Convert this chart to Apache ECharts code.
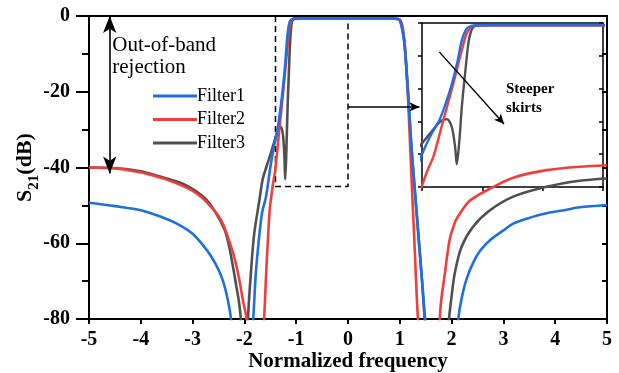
<!DOCTYPE html>
<html><head><meta charset="utf-8">
<script src="https://cdn.jsdelivr.net/npm/echarts/dist/echarts.min.js"></script>
<style>html,body{margin:0;padding:0;background:#fff}#c{width:619px;height:373px}</style>
</head><body><div id="c"></div>
<script>
// ---- data ----
const seriesNames = ['Filter1', 'Filter2', 'Filter3'];
const xRange = [-5, 5];
const yRange = [-80, 0];
const insetXRange = [-1.5, 0];
const insetYRange = [-50, 0];

const f1Freq = [-5, -4.5, -4, -3.5, -3.2, -3.0, -2.8, -2.64, -2.5, -2.4, -2.32, -2.26, -2.05, -1.83, -1.78, -1.72, -1.66, -1.58, -1.5, -1.434, -1.35, -1.268, -1.21, -1.17, -1.13, -1.09, -1.04, -0.9, -0.5, 0, 0.5, 0.9, 0.96, 1.0, 1.04, 1.09, 1.16, 1.22, 1.29, 1.36, 1.43, 1.49, 1.8, 2.13, 2.16, 2.23, 2.3, 2.41, 2.55, 2.74, 3.0, 3.19, 3.5, 3.83, 4.2, 4.47, 5];
const f1S21 = [-49.3, -50.2, -51.3, -53.6, -55.6, -57.5, -60.5, -63.5, -67, -70.5, -75, -80, -120, -80, -68, -59, -52, -47.5, -40, -34.7, -29.1, -20.5, -12.4, -5.3, -1.7, -0.9, -0.7, -0.6, -0.6, -0.6, -0.6, -0.6, -0.8, -1.1, -3, -7.3, -20.5, -33.7, -46, -58, -70, -80, -120, -80, -77, -72.3, -69, -65.3, -62, -59.2, -56.6, -54.8, -53.3, -52.1, -51.2, -50.5, -49.9];

const f2Freq = [-5, -4.44, -4, -3.8, -3.5, -3.15, -2.95, -2.77, -2.62, -2.51, -2.4, -2.32, -2.22, -2.15, -2.08, -2.03, -1.96, -1.8, -1.62, -1.58, -1.55, -1.51, -1.45, -1.406, -1.323, -1.24, -1.17, -1.13, -1.09, -1.05, -0.9, -0.5, 0, 0.5, 0.9, 0.96, 1.0, 1.05, 1.1, 1.16, 1.22, 1.28, 1.35, 1.55, 1.77, 1.8, 1.87, 1.96, 2.05, 2.12, 2.35, 2.74, 3.19, 3.83, 4.47, 5];
const f2S21 = [-40, -40.3, -41.3, -42, -43.2, -45.1, -46.6, -48.6, -50.8, -52.6, -55.3, -58.3, -62.5, -66.2, -71, -75, -80, -120, -80, -68, -60, -51, -44.5, -40.8, -29.6, -18.4, -8.3, -3.2, -1.2, -0.8, -0.7, -0.7, -0.7, -0.7, -0.7, -0.8, -0.9, -2.5, -8, -22, -41, -59, -80, -120, -80, -75, -68, -59.2, -55, -53, -48.8, -45.6, -42.7, -40.7, -39.8, -39.4];

const f3Freq = [-5, -4.44, -4, -3.8, -3.5, -3.15, -2.77, -2.55, -2.38, -2.3, -2.22, -2.16, -2.11, -2.07, -2.0, -1.93, -1.87, -1.81, -1.71, -1.65, -1.58, -1.5, -1.434, -1.35, -1.295, -1.254, -1.226, -1.212, -1.19, -1.17, -1.14, -1.116, -1.09, -1.06, -1.0, -0.5, 0, 0.5, 0.9, 0.96, 1.0, 1.04, 1.09, 1.16, 1.22, 1.29, 1.36, 1.43, 1.48, 1.7, 1.95, 2.0, 2.06, 2.19, 2.41, 2.74, 3.19, 3.83, 4.47, 5];
const f3S21 = [-40, -40.2, -41, -41.7, -42.9, -44.5, -48, -52, -56.5, -60.5, -66.2, -71, -75, -80, -120, -80, -67, -57.4, -48.6, -43.3, -40, -36.7, -33.7, -30.1, -29.3, -31.6, -37.7, -43.1, -35.7, -25.6, -14.4, -6.3, -2.2, -0.9, -0.7, -0.7, -0.7, -0.7, -0.7, -0.8, -1.1, -3, -7.3, -20.5, -33.7, -46, -58, -70, -80, -120, -80, -74, -68, -61, -55.7, -51.3, -47.7, -45.1, -43.5, -42.9];

// annotations (data coordinates)
const zoomBox = [[-1.4, 0], [-1.4, -45], [0, -45], [0, 0]];
const rejectionArrow = [[-4.6, 0], [-4.6, -41.6]];
const zoomArrow = [[0, -24], [1.38, -24]];
const skirtArrow = [[-1.357, -8.8], [-0.82, -30.8]];
const rejectionLabel = ['Out-of-band', 'rejection'];
const rejectionLabelAt = [-4.55, -5.0];
const skirtLabel = ['Steeper', 'skirts'];
const skirtLabelAt = [-0.804, -17.4];

const colors = {Filter1: '#1f6fe0', Filter2: '#f23d3d', Filter3: '#505050'};
const serif = 'Liberation Serif, Times New Roman, serif';

function pairs(xs, ys) { return xs.map((x, i) => [x, ys[i]]); }
const dataMap = {
  Filter1: pairs(f1Freq, f1S21),
  Filter2: pairs(f2Freq, f2S21),
  Filter3: pairs(f3Freq, f3S21)
};

const chart = echarts.init(document.getElementById('c'), null, {renderer: 'canvas'});

const drawOrder = ['Filter3', 'Filter2', 'Filter1'];
const series = [];
drawOrder.forEach(n => {
  series.push({
    name: n, type: 'line', xAxisIndex: 0, yAxisIndex: 0, data: dataMap[n], smooth: 0.3,
    symbol: 'none', clip: true, lineStyle: {color: colors[n], width: 2.6}, itemStyle: {color: colors[n]}, z: 3
  });
});
drawOrder.forEach(n => {
  series.push({
    name: n, type: 'line', xAxisIndex: 2, yAxisIndex: 2, data: dataMap[n], smooth: 0.3,
    symbol: 'none', clip: true, lineStyle: {color: colors[n], width: 2.4}, itemStyle: {color: colors[n]}, z: 4,
    legendHoverLink: false
  });
});

const black = '#000';
series.push({
  name: 'zoomBox', type: 'line', xAxisIndex: 0, yAxisIndex: 0, data: zoomBox,
  symbol: 'none', clip: false, lineStyle: {color: black, width: 1.5, type: [6, 4]}, z: 2,
  markLine: {
    silent: true, animation: false, label: {show: false},
    lineStyle: {color: black, width: 1.6, type: 'solid'},
    data: [
      [{coord: rejectionArrow[0], symbol: 'arrow', symbolSize: [10, 17]}, {coord: rejectionArrow[1], symbol: 'arrow', symbolSize: [10, 17]}],
      [{coord: zoomArrow[0], symbol: 'none'}, {coord: zoomArrow[1], symbol: 'arrow', symbolSize: [7, 10]}]
    ]
  }
});
series.push({
  name: 'skirt', type: 'line', xAxisIndex: 2, yAxisIndex: 2, data: [],
  symbol: 'none', z: 5,
  markLine: {
    silent: true, animation: false, label: {show: false},
    lineStyle: {color: black, width: 1.4, type: 'solid'},
    data: [
      [{coord: skirtArrow[0], symbol: 'none'}, {coord: skirtArrow[1], symbol: 'arrow', symbolSize: [7, 10]}]
    ]
  }
});

const axisLine = w => ({show: true, onZero: false, lineStyle: {color: black, width: w}});

chart.setOption({
  animation: false,
  backgroundColor: '#fff',
  grid: [
    {left: 89, right: 12, top: 16, bottom: 54, containLabel: false, outerBoundsMode: 'none'},
    {left: 422, right: 16, top: 23, bottom: 186, containLabel: false, outerBoundsMode: 'none'}
  ],
  legend: {
    data: seriesNames, orient: 'vertical', left: 148, top: 82,
    icon: 'rect', itemWidth: 44, itemHeight: 3, itemGap: 5.5,
    textStyle: {fontFamily: serif, fontSize: 18, color: black, padding: [0, 0, 0, -5]},
    selectedMode: false
  },
  xAxis: [
    {gridIndex: 0, type: 'value', min: xRange[0], max: xRange[1], interval: 1, position: 'bottom',
      axisLine: axisLine(2), axisTick: {show: true, length: 5, lineStyle: {color: black, width: 2}},
      axisLabel: {margin: 11, fontFamily: serif, fontSize: 20, fontWeight: 'bold', color: black},
      splitLine: {show: false},
      name: 'Normalized frequency', nameLocation: 'middle', nameGap: 32, nameMoveOverlap: false,
      nameTextStyle: {fontFamily: serif, fontSize: 21, fontWeight: 'bold', color: black}},
    {gridIndex: 0, type: 'value', min: xRange[0], max: xRange[1], position: 'top',
      axisLine: axisLine(2), axisTick: {show: false}, axisLabel: {show: false}, splitLine: {show: false}},
    {gridIndex: 1, type: 'value', min: insetXRange[0], max: insetXRange[1], interval: 0.5, position: 'bottom',
      axisLine: axisLine(1.5), axisTick: {show: true, length: 4, lineStyle: {color: black, width: 1.5}},
      axisLabel: {show: false}, splitLine: {show: false}},
    {gridIndex: 1, type: 'value', min: insetXRange[0], max: insetXRange[1], position: 'top',
      axisLine: axisLine(1.5), axisTick: {show: false}, axisLabel: {show: false}, splitLine: {show: false}}
  ],
  yAxis: [
    {gridIndex: 0, type: 'value', min: yRange[0], max: yRange[1], interval: 20, position: 'left',
      axisLine: axisLine(2), axisTick: {show: true, length: 13, lineStyle: {color: black, width: 2}},
      minorTick: {show: true, splitNumber: 2, length: 7, lineStyle: {color: black, width: 2}},
      axisLabel: {margin: 19, fontFamily: serif, fontSize: 20, fontWeight: 'bold', color: black},
      splitLine: {show: false}, minorSplitLine: {show: false},
      name: 'S{s|21}(dB)', nameLocation: 'middle', nameGap: 53, nameMoveOverlap: false,
      nameTextStyle: {fontFamily: serif, fontSize: 22, fontWeight: 'bold', color: black,
        rich: {s: {fontFamily: serif, fontSize: 15, fontWeight: 'bold', color: black, verticalAlign: 'bottom', padding: [0, 0, -6, 0]}}}},
    {gridIndex: 0, type: 'value', min: yRange[0], max: yRange[1], interval: 10, position: 'right',
      axisLine: axisLine(2), axisTick: {show: true, inside: true, length: 5, lineStyle: {color: black, width: 2}},
      axisLabel: {show: false}, splitLine: {show: false}},
    {gridIndex: 1, type: 'value', min: insetYRange[0], max: insetYRange[1], interval: 10, position: 'left',
      axisLine: axisLine(1.5), axisTick: {show: true, length: 4, lineStyle: {color: black, width: 1.5}},
      axisLabel: {show: false}, splitLine: {show: false}},
    {gridIndex: 1, type: 'value', min: insetYRange[0], max: insetYRange[1], interval: 10, position: 'right',
      axisLine: axisLine(1.5), axisTick: {show: true, inside: true, length: 4, lineStyle: {color: black, width: 1.5}},
      axisLabel: {show: false}, splitLine: {show: false}}
  ],
  series: series
});

const p1 = chart.convertToPixel({xAxisIndex: 0, yAxisIndex: 0}, rejectionLabelAt);
const p2 = chart.convertToPixel({xAxisIndex: 2, yAxisIndex: 2}, skirtLabelAt);
chart.setOption({
  graphic: [
    {type: 'text', x: p1[0], y: p1[1], z: 10, silent: true,
      style: {text: rejectionLabel.join('\n'), font: '21px ' + serif, fill: black, lineHeight: 22, align: 'left', verticalAlign: 'top'}},
    {type: 'text', x: p2[0], y: p2[1], z: 10, silent: true,
      style: {text: skirtLabel.join('\n'), font: 'bold 15px ' + serif, fill: black, lineHeight: 19, align: 'left', verticalAlign: 'top'}}
  ]
});
</script>
</body></html>
